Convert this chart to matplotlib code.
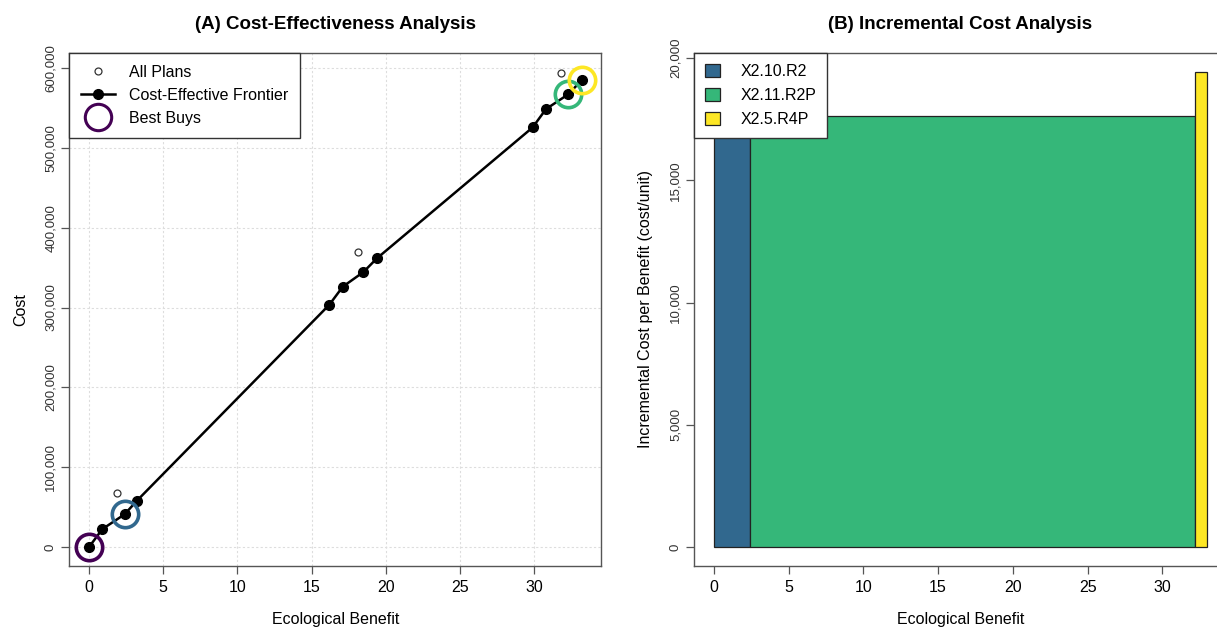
import matplotlib
matplotlib.use("Agg")
import matplotlib.pyplot as plt
from matplotlib.lines import Line2D
from matplotlib.patches import Patch
from matplotlib.ticker import FuncFormatter

plt.rcParams['font.family'] = ['Liberation Sans', 'DejaVu Sans']

# all plans (benefit, cost)
all_benefit = [0, 0.9, 1.9, 2.4, 3.2, 16.2, 17.1, 18.1, 18.5, 19.4, 29.9, 30.8, 31.8, 32.3, 33.2]
all_cost = [0, 22500, 67500, 41000, 57500, 303500, 326000, 370000, 344500, 361500,
            525500, 548500, 593500, 567000, 584500]

# cost-effective frontier
front_benefit = [0, 0.9, 2.4, 3.2, 16.2, 17.1, 18.5, 19.4, 29.9, 30.8, 32.3, 33.2]
front_cost = [0, 22500, 41000, 57500, 303500, 326000, 344500, 361500, 525500, 548500, 567000, 584500]

# best buys
best_names = ["X2.0", "X2.10.R2", "X2.11.R2P", "X2.5.R4P"]
best_benefit = [0, 2.4, 32.3, 33.2]
best_cost = [0, 41000, 567000, 584500]
best_colors = ["#440154", "#31688E", "#35B779", "#FDE725"]

# incremental cost bars
bar_names = ["X2.10.R2", "X2.11.R2P", "X2.5.R4P"]
bar_edges = [0, 2.4, 32.2, 33.0]
bar_heights = [17000, 17650, 19430]
bar_colors = ["#31688E", "#35B779", "#FDE725"]

comma = FuncFormatter(lambda v, p: f"{int(v):,}")

fig = plt.figure(figsize=(12.17, 6.3), dpi=100)
axA = fig.add_axes([69.3 / 1217, 64 / 630, 532 / 1217, 513 / 630])
axB = fig.add_axes([694 / 1217, 64 / 630, 533 / 1217, 513 / 630])

for ax in (axA, axB):
    for s in ax.spines.values():
        s.set_color('#555555')
        s.set_linewidth(1.0)
    ax.tick_params(direction='out', length=6, width=0.9, color='#555555', labelsize=11.5, pad=4)
    ax.tick_params(axis='y', labelsize=9.5, pad=3, labelcolor='#333333')

# ---- (A)
axA.set_xlim(-1.33, 34.53)
axA.set_ylim(-23750, 618750)
axA.set_xticks(range(0, 31, 5))
axA.set_yticks(range(0, 600001, 100000))
axA.yaxis.set_major_formatter(comma)
axA.grid(True, color='#dddddd', linestyle=(0, (2, 2)), linewidth=0.8)
axA.set_axisbelow(True)

axA.plot(all_benefit, all_cost, 'o', ms=5, mfc='white', mec='#333333', mew=0.9, zorder=2)
axA.plot(front_benefit, front_cost, '-o', color='black', lw=1.8, ms=7, zorder=3)
for b, c, col in zip(best_benefit, best_cost, best_colors):
    axA.plot(b, c, 'o', ms=19, mfc='none', mec=col, mew=2.6, zorder=4)

axA.set_title("(A) Cost-Effectiveness Analysis", fontsize=13.5, fontweight='bold', pad=17)
axA.set_xlabel("Ecological Benefit", fontsize=11.5, labelpad=12)
axA.set_ylabel("Cost", fontsize=11.5, labelpad=12)
for lab in axA.get_yticklabels():
    lab.set_rotation(90)
    lab.set_va('center')

hA = [Line2D([], [], ls='none', marker='o', ms=5, mfc='white', mec='#333333', mew=0.9),
      Line2D([], [], color='black', lw=1.8, marker='o', ms=7),
      Line2D([], [], ls='none', marker='o', ms=19, mfc='none', mec=best_colors[0], mew=2.2)]
legA = axA.legend(hA, ["All Plans", "Cost-Effective Frontier", "Best Buys"], loc='upper left',
                  bbox_to_anchor=(0, 1), borderaxespad=0, fancybox=False, framealpha=1,
                  edgecolor='#333333', fontsize=11.5, handlelength=2.1, labelspacing=0.5,
                  borderpad=0.75, handletextpad=0.9)
legA.get_frame().set_linewidth(1.0)

# ---- (B)
axB.set_xlim(-1.32, 34.32)
axB.set_ylim(-777, 20207)
axB.set_xticks(range(0, 31, 5))
axB.set_yticks(range(0, 20001, 5000))
axB.yaxis.set_major_formatter(comma)
for i in range(len(bar_heights)):
    axB.bar(bar_edges[i], bar_heights[i], width=bar_edges[i + 1] - bar_edges[i], align='edge',
            color=bar_colors[i], edgecolor='#222222', linewidth=0.9)
axB.set_title("(B) Incremental Cost Analysis", fontsize=13.5, fontweight='bold', pad=17)
axB.set_xlabel("Ecological Benefit", fontsize=11.5, labelpad=12)
axB.set_ylabel("Incremental Cost per Benefit (cost/unit)", fontsize=11.5, labelpad=12)
for lab in axB.get_yticklabels():
    lab.set_rotation(90)
    lab.set_va('center')

hB = [Patch(facecolor=c, edgecolor='#222222', linewidth=0.9) for c in bar_colors]
legB = axB.legend(hB, bar_names, loc='upper left', bbox_to_anchor=(0, 1), borderaxespad=0,
                  fancybox=False, framealpha=1, edgecolor='#333333', fontsize=11.5,
                  handlelength=0.9, handleheight=0.9, labelspacing=0.55, borderpad=0.7,
                  handletextpad=1.3)
legB.get_frame().set_linewidth(1.0)

fig.savefig("out.png", dpi=100)
